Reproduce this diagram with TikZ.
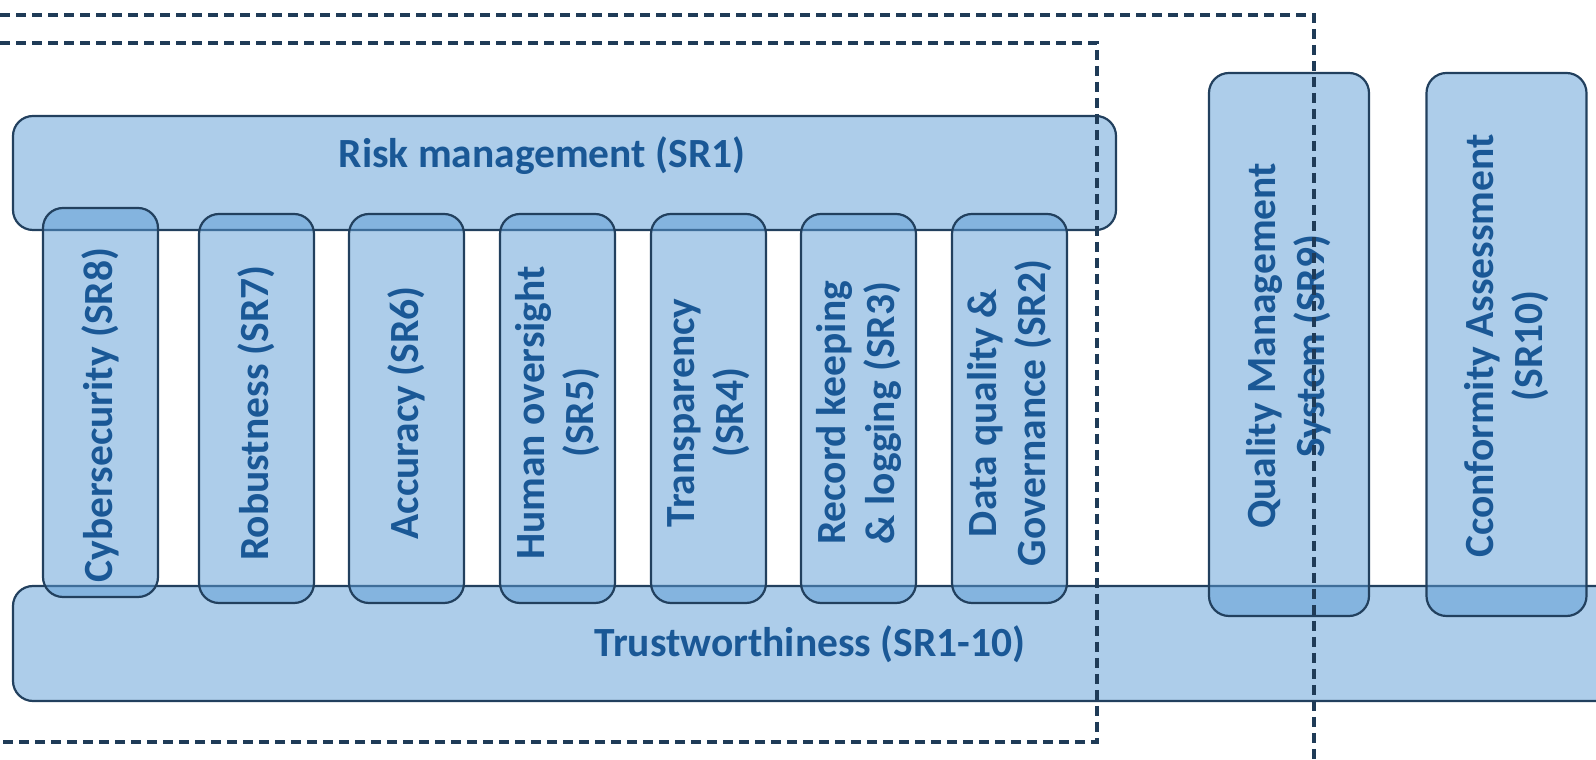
\documentclass[tikz,border=0pt]{standalone}
\usepackage{fontspec}
\setmainfont{Carlito}
\definecolor{boxfill}{HTML}{5B9BD5}
\definecolor{boxline}{HTML}{22405E}
\definecolor{txt}{HTML}{1A5896}
\definecolor{dashcol}{HTML}{1F3B57}
\begin{document}
\begin{tikzpicture}[x=1pt,y=1pt,
  box/.style={draw=boxline, line width=2.2pt, fill=boxfill, fill opacity=0.5, draw opacity=1, text opacity=1, rounded corners=20pt, inner sep=0pt},
  pillar/.style={box, minimum width=115pt, minimum height=389pt},
  tallbox/.style={box, minimum width=160pt, minimum height=543pt},
  lbl/.style={text=txt, font=\fontsize{41.5}{49}\selectfont\bfseries, align=center, inner sep=0pt},
  vlbl/.style={lbl, rotate=90},
  dashline/.style={draw=dashcol, line width=3.2pt, dash pattern=on 10pt off 6pt}]
\useasboundingbox (0,0) rectangle (1596,760);
% horizontal bars
\node[box, minimum width=1103pt, minimum height=114pt] (risk) at (564.5,587) {};
\node[box, minimum width=1660pt, minimum height=115pt] (trust) at (843,116.5) {};
% pillars
\node[pillar] (p8) at (100.5,357.5) {};
\node[pillar] (p7) at (256.5,351.5) {};
\node[pillar] (p6) at (406.5,351.5) {};
\node[pillar] (p5) at (557.5,351.5) {};
\node[pillar] (p4) at (708.5,351.5) {};
\node[pillar] (p3) at (858.5,351.5) {};
\node[pillar] (p2) at (1009.5,351.5) {};
\node[tallbox] (p9) at (1289,415.5) {};
\node[tallbox] (p10) at (1506.5,415.5) {};
% labels
\node[lbl] (risktxt) at (542,604) {Risk management (SR1)};
\node[lbl] (trusttxt) at (810,116) {Trustworthiness (SR1-10)};
\node[vlbl] (t8) at (p8.center |- 0,345) {Cybersecurity (SR8)};
\node[vlbl] (t7) at (p7.center |- 0,347) {Robustness (SR7)};
\node[vlbl] (t6) at (p6.center |- 0,347) {Accuracy (SR6)};
\node[vlbl] (t5) at (p5.center |- 0,347) {Human oversight\\(SR5)};
\node[vlbl] (t4) at (p4.center |- 0,347) {Transparency\\(SR4)};
\node[vlbl] (t3) at (p3.center |- 0,347) {Record keeping\\\& logging (SR3)};
\node[vlbl] (t2) at (p2.center |- 0,347) {Data quality \&\\Governance (SR2)};
\node[vlbl] (t9) at (p9.center |- 0,414) {Quality Management\\System (SR9)};
\node[vlbl] (t10) at (p10.center |- 0,414) {Cconformity Assessment\\(SR10)};
% dashed frames
\coordinate (oa) at (0,745);
\coordinate (ob) at (1314,745);
\coordinate (oc) at (1314,0);
\draw[dashline] (oa) -- (ob) -- (oc);
\coordinate (ia) at (0,717);
\coordinate (ib) at (1097,717);
\coordinate (ic) at (1097,18);
\coordinate (id) at (0,18);
\draw[dashline] (ia) -- (ib) -- (ic) -- (id);
\end{tikzpicture}
\end{document}
